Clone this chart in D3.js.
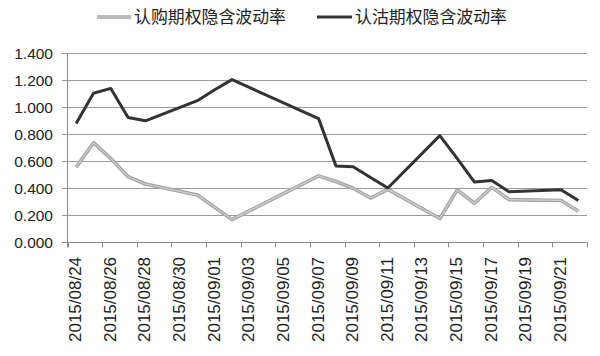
<!DOCTYPE html>
<html><head><meta charset="utf-8">
<script src="https://cdn.jsdelivr.net/npm/d3@7"></script>
<style>body{margin:0;background:#fff}svg{display:block}</style>
</head><body>
<script>
const dates = ["2015/08/24","2015/08/25","2015/08/26","2015/08/27","2015/08/28","2015/08/31","2015/09/01","2015/09/02","2015/09/07","2015/09/08","2015/09/09","2015/09/10","2015/09/11","2015/09/14","2015/09/15","2015/09/16","2015/09/17","2015/09/18","2015/09/21","2015/09/22"];
const callIV = [0.555,0.738,0.62,0.486,0.432,0.35,0.26,0.168,0.492,0.45,0.40,0.328,0.392,0.176,0.387,0.289,0.407,0.316,0.31,0.23];
const putIV  = [0.88,1.104,1.14,0.924,0.9,1.049,1.13,1.205,0.916,0.566,0.56,0.48,0.402,0.79,0.622,0.446,0.458,0.375,0.39,0.31];
const seriesNames = ["认购期权隐含波动率","认沽期权隐含波动率"];
const yTicks = [0,0.2,0.4,0.6,0.8,1.0,1.2,1.4];
const axisStart = "2015/08/24", axisEnd = "2015/09/23";

const W=600,H=356;
const parse = d3.timeParse("%Y/%m/%d");
const fmt = d3.timeFormat("%Y/%m/%d");
const svg = d3.select("body").append("svg").attr("width",W).attr("height",H);

const x = d3.scaleTime().domain([parse(axisStart), parse(axisEnd)]).range([67.5, 587]);
const y = d3.scaleLinear().domain([0,1.4]).range([242.3, 53.3]);
const mid = d => d3.timeHour.offset(parse(d), 12);

// gridlines
svg.append("g").selectAll("line").data(yTicks).join("line")
  .attr("x1",62).attr("x2",587).attr("y1",d=>Math.round(y(d))+0.5).attr("y2",d=>Math.round(y(d))+0.5)
  .attr("stroke",d=>d===0?"#8a8a8a":"#9a9a9a").attr("stroke-width",1);
// y axis line
svg.append("line").attr("x1",67.5).attr("x2",67.5).attr("y1",y(1.4)).attr("y2",y(0)+5)
  .attr("stroke","#8a8a8a");
// y labels
svg.append("g").selectAll("text").data(yTicks).join("text")
  .attr("x",53).attr("y",d=>y(d)).attr("dy","0.36em").attr("text-anchor","end")
  .attr("font-family","Liberation Sans, Arial, sans-serif").attr("font-size",15.5).attr("fill","#222")
  .text(d=>d3.format(".3f")(d));

// x ticks
const tickDates = d3.timeDay.range(parse(axisStart), d3.timeDay.offset(parse(axisEnd),1), 2);
svg.append("g").selectAll("line").data(tickDates).join("line")
  .attr("x1",d=>Math.round(x(d))+0.5).attr("x2",d=>Math.round(x(d))+0.5)
  .attr("y1",y(0)).attr("y2",y(0)+5).attr("stroke","#8a8a8a");
// x labels
const labelDates = tickDates.filter(d=>d<parse(axisEnd));
svg.append("g").selectAll("text").data(labelDates).join("text")
  .attr("transform",d=>`translate(${x(d3.timeHour.offset(d,12))+5},257) rotate(-90)`)
  .attr("text-anchor","end")
  .attr("font-family","Liberation Sans, Arial, sans-serif").attr("font-size",16).attr("fill","#222")
  .attr("textLength",85).attr("lengthAdjust","spacingAndGlyphs")
  .text(d=>fmt(d));

const line = d3.line().x(d=>x(mid(d[0]))).y(d=>y(d[1]));
const callData = dates.map((d,i)=>[d,callIV[i]]);
const putData = dates.map((d,i)=>[d,putIV[i]]);

svg.append("path").datum(callData).attr("d",line).attr("fill","none")
  .attr("stroke","#a4a4a4").attr("stroke-width",3.6).attr("stroke-linejoin","round");
svg.append("path").datum(callData).attr("d",line).attr("fill","none")
  .attr("stroke","#cfcfcf").attr("stroke-width",1.2).attr("stroke-linejoin","round");
svg.append("path").datum(putData).attr("d",line).attr("fill","none")
  .attr("stroke","#333").attr("stroke-width",3).attr("stroke-linejoin","round");

// legend
const lg = svg.append("g");
lg.append("line").attr("x1",97).attr("x2",131).attr("y1",17).attr("y2",17).attr("stroke","#a4a4a4").attr("stroke-width",3.6);
lg.append("line").attr("x1",97).attr("x2",131).attr("y1",17).attr("y2",17).attr("stroke","#cfcfcf").attr("stroke-width",1.2);
lg.append("line").attr("x1",317).attr("x2",352).attr("y1",17).attr("y2",17).attr("stroke","#333").attr("stroke-width",3);
lg.selectAll("text").data(seriesNames).join("text")
  .attr("x",(d,i)=>i===0?134:355).attr("y",17).attr("dy","0.36em")
  .attr("font-family","Noto Sans CJK SC, sans-serif").attr("font-size",16.5).attr("fill","#222")
  .attr("textLength",152).attr("lengthAdjust","spacingAndGlyphs")
  .text(d=>d);
</script>
</body></html>
